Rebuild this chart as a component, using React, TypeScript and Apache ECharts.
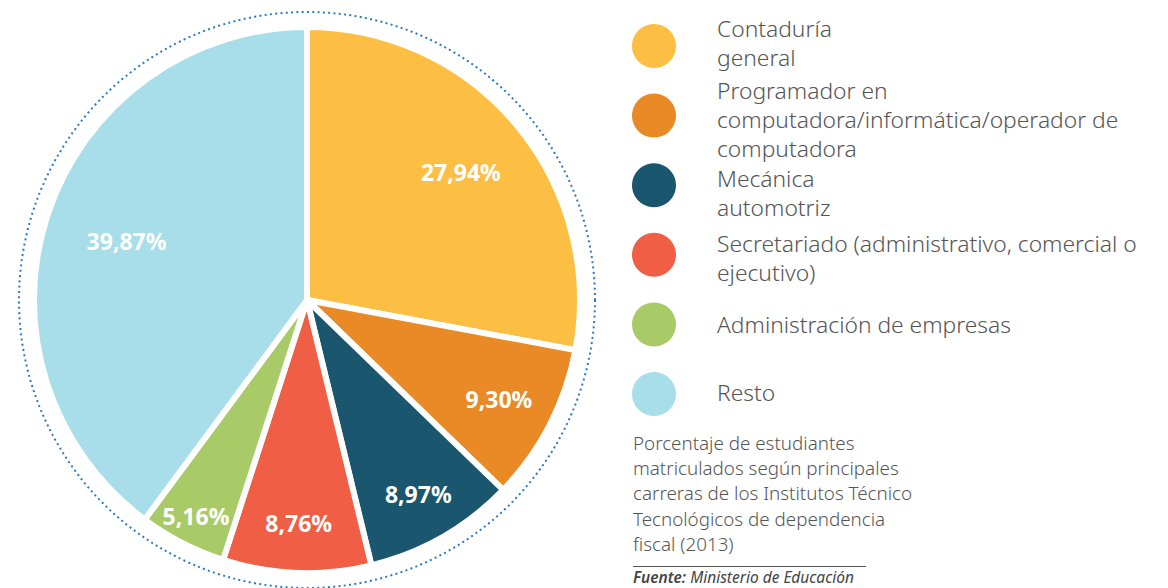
import React, { useEffect, useRef } from "react";
import * as echarts from "echarts";

const categories = [
  "Contaduría\ngeneral",
  "Programador en\ncomputadora/informática/operador de\ncomputadora",
  "Mecánica\nautomotriz",
  "Secretariado (administrativo, comercial o\nejecutivo)",
  "Administración de empresas",
  "Resto",
];
const values = [27.94, 9.3, 8.97, 8.76, 5.16, 39.87];
const valueLabels = ["27,94%", "9,30%", "8,97%", "8,76%", "5,16%", "39,87%"];
const colors = ["#FDBE44", "#EA8A26", "#1A566E", "#F05F45", "#A9CB67", "#A8DDEA"];
const caption =
  "Porcentaje de estudiantes\nmatriculados según principales\ncarreras de los Institutos Técnico\nTecnológicos de dependencia\nfiscal (2013)";

// layout / style only
const labelRadii = [197, 213, 221, 220, 240, 187];
const legendTextShift = [-3, 4, 8, 3, 0, -2];

const FONT = "'Noto Sans', 'Open Sans', sans-serif";

export default function App() {
  const ref = useRef<HTMLDivElement>(null);
  useEffect(() => {
    document.body.style.margin = "0";
    if (!ref.current) return;
    const chart = echarts.init(ref.current, undefined, { renderer: "svg" });
    const cx = 307;
    const cy = 300;
    const R = 273;
    const legendEls: any[] = [];
    categories.forEach((c, i) => {
      const y = 46 + i * 69.6;
      legendEls.push({
        type: "circle",
        shape: { cx: 654, cy: y, r: 22 },
        style: { fill: colors[i] },
      });
      legendEls.push({
        type: "text",
        x: 717,
        y: y + legendTextShift[i],
        style: {
          text: c,
          fill: "#555555",
          fontFamily: FONT,
          fontSize: 22.8,
          fontWeight: 300,
          lineHeight: 29,
          verticalAlign: "middle",
          align: "left",
        },
      });
    });
    const labelSeries = labelRadii.map((lr, k) => ({
      type: "pie",
      center: [cx, cy],
      radius: [2 * lr - R, R],
      startAngle: 90,
      clockwise: true,
      silent: true,
      itemStyle: { color: "rgba(0,0,0,0)", borderWidth: 0 },
      label: {
        show: true,
        position: "inside",
        color: "#ffffff",
        fontFamily: FONT,
        fontWeight: "bold",
        fontSize: 23,
        formatter: (p: any) => (p.dataIndex === k ? valueLabels[p.dataIndex] : ""),
      },
      labelLine: { show: false },
      data: values.map((v, i) => ({ name: categories[i], value: v })),
    }));
    const option: any = {
      animation: false,
      backgroundColor: "#ffffff",
      graphic: [
        {
          type: "circle",
          shape: { cx, cy, r: 288 },
          silent: true,
          style: {
            fill: "none",
            stroke: "#2a7bbf",
            lineWidth: 2,
            lineDash: [2, 3.3],
          },
        },
        ...legendEls,
        {
          type: "text",
          x: 633,
          y: 430,
          style: {
            text: caption,
            fill: "#555555",
            fontFamily: FONT,
            fontSize: 18.8,
            fontWeight: 300,
            lineHeight: 25.3,
            verticalAlign: "top",
          },
        },
        {
          type: "line",
          shape: { x1: 633, y1: 566.5, x2: 866, y2: 566.5 },
          style: { stroke: "#555555", lineWidth: 1 },
        },
        {
          type: "text",
          x: 633,
          y: 577,
          style: {
            text: "{b|Fuente:} Ministerio de Educación",
            fill: "#444444",
            fontFamily: FONT,
            fontSize: 15.5,
            fontStyle: "italic",
            verticalAlign: "middle",
            rich: {
              b: {
                fontFamily: FONT,
                fontSize: 15.5,
                fontStyle: "italic",
                fontWeight: 600,
                fill: "#444444",
              },
            },
          },
        },
      ],
      series: [
        {
          type: "pie",
          center: [cx, cy],
          radius: [0, R],
          startAngle: 90,
          clockwise: true,
          silent: true,
          label: { show: false },
          labelLine: { show: false },
          itemStyle: { borderColor: "#ffffff", borderWidth: 6 },
          data: values.map((v, i) => ({
            name: categories[i],
            value: v,
            itemStyle: { color: colors[i] },
          })),
        },
        ...labelSeries,
      ],
    };
    chart.setOption(option);
    return () => chart.dispose();
  }, []);
  return <div ref={ref} style={{ width: 1168, height: 588 }} />;
}
